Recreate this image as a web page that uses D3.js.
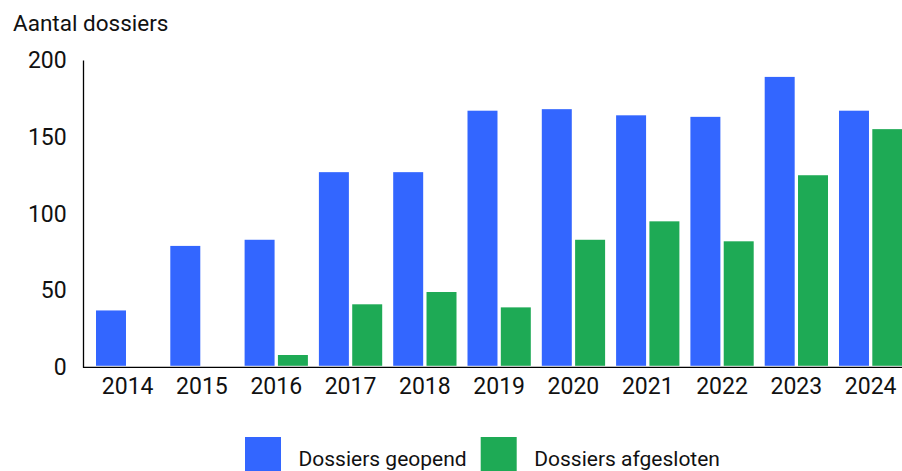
<!DOCTYPE html>
<html>
<head>
<meta charset="utf-8">
<script src="https://cdn.jsdelivr.net/npm/d3@7"></script>
<style>
  body { margin: 0; background: #fff; }
  svg { display: block; font-family: Roboto, "Noto Sans", sans-serif; }
</style>
</head>
<body>
<div id="chart"></div>
<script>
const years = ["2014", "2015", "2016", "2017", "2018", "2019", "2020", "2021", "2022", "2023", "2024"]
const opened = [37, 79, 83, 127, 127, 167, 168, 164, 163, 189, 167]
const closed = [0, 0, 8, 41, 49, 39, 83, 95, 82, 125, 155]
const seriesNames = ["Dossiers geopend", "Dossiers afgesloten"]
const seriesColors = ["#3366ff", "#1eaa55"]
const yTicks = [0, 50, 100, 150, 200]

const width = 902
const height = 471
const plotLeft = 83, plotTop = 60, plotBottom = 367.3

const rows = years.map((y, i) => ({ year: y, values: [opened[i], closed[i]] }))

const svg = d3.select("#chart")
  .append("svg")
  .attr("width", width)
  .attr("height", height)

const x = d3.scaleBand()
  .domain(years)
  .range([plotLeft, 915.3])
  .paddingInner(0.148)
  .paddingOuter(0.175)

const xSub = d3.scaleBand()
  .domain([0, 1])
  .range([0, x.bandwidth()])
  .paddingInner(0.1)

const y = d3.scaleLinear().domain([0, 200]).range([plotBottom, plotTop])

// bars
const groups = svg.selectAll(".group")
  .data(rows)
  .enter().append("g")
  .attr("class", "group")
  .attr("transform", d => "translate(" + x(d.year) + ",0)")

groups.selectAll("rect")
  .data(d => d.values.map((v, k) => ({ k: k, v: v })))
  .enter().append("rect")
  .attr("x", d => xSub(d.k))
  .attr("width", xSub.bandwidth())
  .attr("y", d => y(d.v))
  .attr("height", d => Math.max(0, y(0) - y(d.v) - 1.5))
  .attr("fill", d => seriesColors[d.k])

// axes
const yAxis = svg.append("g")
  .attr("transform", "translate(" + plotLeft + ",0)")
  .call(d3.axisLeft(y).tickValues(yTicks).tickSize(0).tickPadding(16.3))
yAxis.select(".domain").attr("stroke", "#000").attr("stroke-width", 1.3)
yAxis.selectAll("text").attr("font-size", 23).attr("fill", "#111").attr("font-family", "Roboto")

const xAxis = svg.append("g")
  .attr("transform", "translate(0," + plotBottom + ")")
  .call(d3.axisBottom(x).tickSize(0).tickPadding(10).tickSizeOuter(0))
xAxis.select(".domain").attr("d", "M" + plotLeft + ",0H" + width).attr("stroke", "#000").attr("stroke-width", 1.3)
xAxis.selectAll("text").attr("font-size", 23).attr("fill", "#111").attr("font-family", "Roboto")

// y title
svg.append("text")
  .attr("x", 13)
  .attr("y", 31)
  .attr("font-size", 22.5)
  .attr("fill", "#111")
  .text("Aantal dossiers")

// legend
const legendX = [245, 480.7]
const legend = svg.selectAll(".legend")
  .data(seriesNames)
  .enter().append("g")
  .attr("class", "legend")
  .attr("transform", (d, i) => "translate(" + legendX[i] + ",437)")

legend.append("rect")
  .attr("width", 36)
  .attr("height", 36)
  .attr("fill", (d, i) => seriesColors[i])

legend.append("text")
  .attr("x", 53.5)
  .attr("y", 28.5)
  .attr("font-size", 21)
  .attr("fill", "#111")
  .text(d => d)
</script>
</body>
</html>
